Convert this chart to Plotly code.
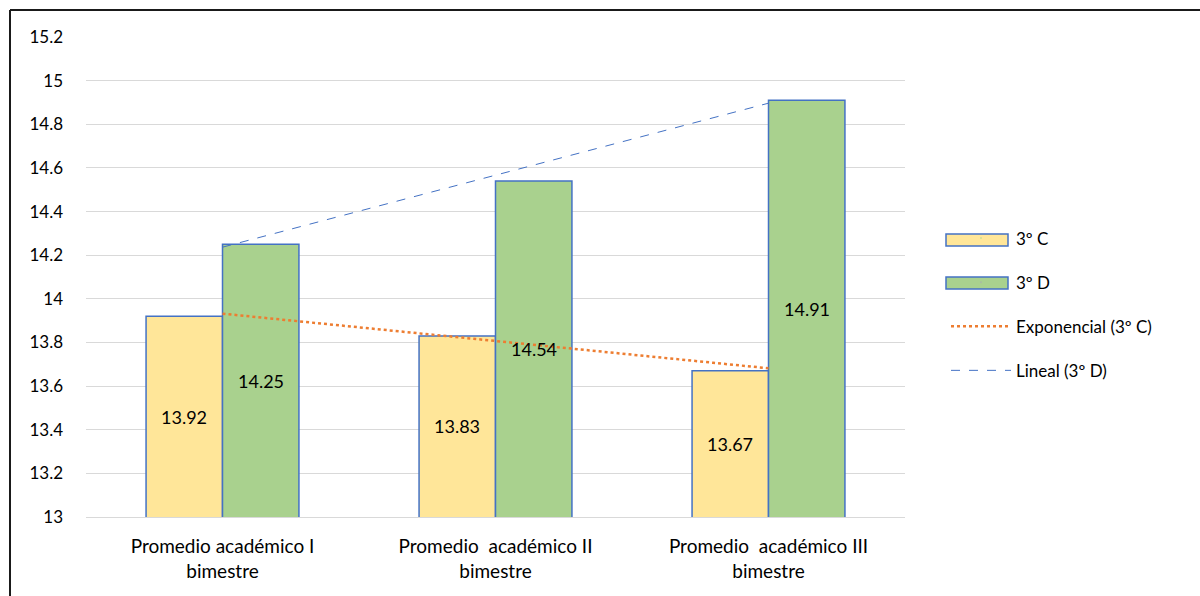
import numpy as np
import plotly.graph_objects as go

categories = ["Promedio académico I<br>bimestre",
              "Promedio  académico II<br>bimestre",
              "Promedio  académico III<br>bimestre"]
grupo_c = [13.92, 13.83, 13.67]
grupo_d = [14.25, 14.54, 14.91]
y_ticks = [13, 13.2, 13.4, 13.6, 13.8, 14, 14.2, 14.4, 14.6, 14.8, 15, 15.2]

x_pos = np.arange(len(categories))
FONT = "Lato, 'Open Sans', Arial, sans-serif"
Y_MIN, Y_MAX = 13, 15.2
BARGAP = 0.44
half = (1 - BARGAP) / 4  # offset of each bar centre from the category centre

# Plot-area geometry in pixels (used to place the frame and legend swatches)
L, T, W, H = 86, 37, 819, 480
def px(xp):
    return (xp - L) / W
def py(yp):
    return (T + H - yp) / H

C_FILL, D_FILL, EDGE = "#FFE699", "#A9D18E", "#4472C4"

# Least-squares trend lines evaluated along the category centres
xs = np.linspace(x_pos[0], x_pos[-1], 60)
b_exp, a_exp = np.polyfit(x_pos, np.log(grupo_c), 1)
exp_curve = np.exp(a_exp + b_exp * xs)
b_lin, a_lin = np.polyfit(x_pos, grupo_d, 1)
lin_curve = a_lin + b_lin * xs

fig = go.Figure()
fig.add_trace(go.Bar(
    x=x_pos, y=grupo_c, name="3º C", showlegend=False,
    marker=dict(color=C_FILL, line=dict(color=EDGE, width=1.5)),
))
fig.add_trace(go.Bar(
    x=x_pos, y=grupo_d, name="3º D", showlegend=False,
    marker=dict(color=D_FILL, line=dict(color=EDGE, width=1.5)),
))
# Legend entries for the bars; their wide swatches are drawn as shapes below
for nm, grp in (("3º C", "c"), ("3º D", "d")):
    fig.add_trace(go.Scatter(
        x=[None], y=[None], mode="markers", name=nm, legendgroup=grp,
        marker=dict(opacity=0, size=1),
    ))
fig.add_trace(go.Scatter(
    x=xs, y=exp_curve, mode="lines", name="Exponencial (3º C)", legendgroup="e",
    line=dict(color="#ED7D31", width=2.5, dash="dot"),
))
fig.add_trace(go.Scatter(
    x=xs, y=lin_curve, mode="lines", name="Lineal (3º D)", legendgroup="l",
    line=dict(color=EDGE, width=1, dash="dash"),
))

# Value labels centred in the visible part of each bar
for vals, side in ((grupo_c, -1), (grupo_d, 1)):
    for xi, v in zip(x_pos, vals):
        fig.add_annotation(x=xi + side * half, y=(Y_MIN + v) / 2, text=f"{v:.2f}",
                           showarrow=False,
                           font=dict(size=18, color="black", family=FONT, weight=400))

# Legend swatches for the two bar series
for yc, fill in ((240, C_FILL), (283, D_FILL)):
    fig.add_shape(type="rect", xref="paper", yref="paper",
                  x0=px(946), x1=px(1008), y0=py(yc + 6), y1=py(yc - 6),
                  fillcolor=fill, line=dict(color=EDGE, width=1.5))

# Chart frame (left and top edges)
fx, fy = px(10), py(10)
fig.add_shape(type="line", xref="paper", yref="paper", x0=fx, x1=fx, y0=-0.3, y1=fy,
              line=dict(color="#1a1a1a", width=2))
fig.add_shape(type="line", xref="paper", yref="paper", x0=fx, x1=1.5, y0=fy, y1=fy,
              line=dict(color="#1a1a1a", width=2))

fig.update_layout(
    width=1200, height=596,
    margin=dict(l=L, r=1200 - L - W, t=T, b=596 - T - H),
    paper_bgcolor="white", plot_bgcolor="white",
    barmode="group", bargap=BARGAP, bargroupgap=0,
    font=dict(family=FONT, color="black", weight=400),
    showlegend=True,
    legend=dict(x=px(946), y=py(304.5), yanchor="middle", xanchor="left",
                font=dict(size=17, family=FONT, weight=400), tracegroupgap=19,
                itemwidth=60, bgcolor="rgba(0,0,0,0)"),
    xaxis=dict(tickvals=list(x_pos), ticktext=categories, range=[-0.5, 2.5],
               showgrid=False, showline=True, linecolor="#D9D9D9", linewidth=1,
               ticks="", tickfont=dict(size=19, family=FONT, weight=400),
               ticklabelstandoff=12),
    yaxis=dict(range=[Y_MIN, Y_MAX], tickvals=y_ticks,
               ticktext=[f"{t:g}" for t in y_ticks],
               showgrid=True, gridcolor="#D9D9D9", gridwidth=1,
               zeroline=False, showline=False, ticks="",
               tickfont=dict(size=17, family=FONT, weight=400), ticklabelstandoff=22),
)

fig.write_html("out.html")
